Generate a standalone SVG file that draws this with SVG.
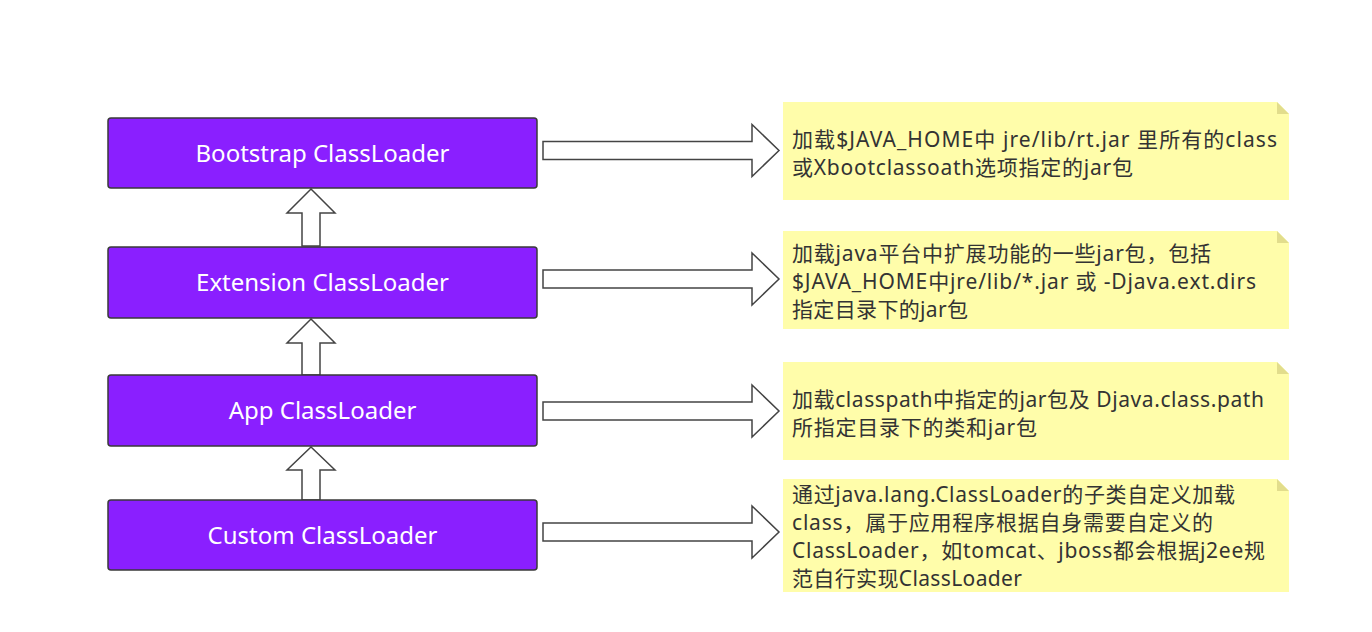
<svg xmlns="http://www.w3.org/2000/svg" width="1372" height="632" viewBox="0 0 1372 632">
<style>
.box{fill:#8A1FFF;stroke:#3a3a3a;stroke-width:1.5}
.lbl{fill:#ffffff;font-family:"Noto Sans","Noto Sans CJK SC",sans-serif;font-size:24px;text-anchor:middle}
.note{fill:#FFFDAA}
.fold{fill:#E2DD8C}
.nt{fill:#333333;font-family:"Noto Sans","Noto Sans CJK SC",sans-serif;font-size:21px}
.arr{fill:#ffffff;stroke:#444444;stroke-width:1.5;stroke-linejoin:miter}
</style>
<defs>
<path id="rarrow" d="M0,-9 L209,-9 L209,-26 L236,0 L209,26 L209,9 L0,9 Z"/>
</defs>
<rect width="1372" height="632" fill="#ffffff"/>
<g id="connectors">
<path class="arr" d="M311,189 L335,213 L320,213 L320,246 L302,246 L302,213 L287,213 Z"/>
<path class="arr" d="M311,319 L335,343 L320,343 L320,375 L302,375 L302,343 L287,343 Z"/>
<path class="arr" d="M311,447 L335,470 L320,470 L320,500 L302,500 L302,470 L287,470 Z"/>
<use href="#rarrow" class="arr" transform="translate(543,150.5)"/>
<use href="#rarrow" class="arr" transform="translate(543,279)"/>
<use href="#rarrow" class="arr" transform="translate(543,411)"/>
<use href="#rarrow" class="arr" transform="translate(543,532)"/>
</g>
<g id="bootstrap">
<rect class="box" x="108" y="118" width="429" height="70" rx="3"/>
<text class="lbl" x="322.5" y="162">Bootstrap ClassLoader</text>
</g>
<g id="extension">
<rect class="box" x="108" y="247" width="429" height="71" rx="3"/>
<text class="lbl" x="322.5" y="291">Extension ClassLoader</text>
</g>
<g id="app">
<rect class="box" x="108" y="375" width="429" height="71" rx="3"/>
<text class="lbl" x="322.5" y="419">App ClassLoader</text>
</g>
<g id="custom">
<rect class="box" x="108" y="500" width="429" height="70" rx="3"/>
<text class="lbl" x="322.5" y="544">Custom ClassLoader</text>
</g>
<g id="note1">
<path class="note" d="M783,102 L1277,102 L1289,114 L1289,200 L783,200 Z"/>
<path class="fold" d="M1277,102 L1289,114 L1277,114 Z"/>
<text class="nt" x="792" y="147" textLength="485" lengthAdjust="spacing">加载$JAVA_HOME中 jre/lib/rt.jar 里所有的class</text>
<text class="nt" x="792" y="175" textLength="341" lengthAdjust="spacing">或Xbootclassoath选项指定的jar包</text>
</g>
<g id="note2">
<path class="note" d="M783,231 L1277,231 L1289,243 L1289,329 L783,329 Z"/>
<path class="fold" d="M1277,231 L1289,243 L1277,243 Z"/>
<text class="nt" x="792" y="261" textLength="419" lengthAdjust="spacing">加载java平台中扩展功能的一些jar包，包括</text>
<text class="nt" x="792" y="289" textLength="464" lengthAdjust="spacing">$JAVA_HOME中jre/lib/*.jar 或 -Djava.ext.dirs</text>
<text class="nt" x="792" y="317" textLength="176" lengthAdjust="spacing">指定目录下的jar包</text>
</g>
<g id="note3">
<path class="note" d="M783,362 L1277,362 L1289,374 L1289,460 L783,460 Z"/>
<path class="fold" d="M1277,362 L1289,374 L1277,374 Z"/>
<text class="nt" x="792" y="407" textLength="472" lengthAdjust="spacing">加载classpath中指定的jar包及 Djava.class.path</text>
<text class="nt" x="792" y="435" textLength="245" lengthAdjust="spacing">所指定目录下的类和jar包</text>
</g>
<g id="note4">
<path class="note" d="M783,479 L1277,479 L1289,491 L1289,592 L783,592 Z"/>
<path class="fold" d="M1277,479 L1289,491 L1277,491 Z"/>
<text class="nt" x="792" y="502" textLength="443" lengthAdjust="spacing">通过java.lang.ClassLoader的子类自定义加载</text>
<text class="nt" x="792" y="530" textLength="421" lengthAdjust="spacing">class，属于应用程序根据自身需要自定义的</text>
<text class="nt" x="792" y="558" textLength="473" lengthAdjust="spacing">ClassLoader，如tomcat、jboss都会根据j2ee规</text>
<text class="nt" x="792" y="586" textLength="230" lengthAdjust="spacing">范自行实现ClassLoader</text>
</g>
</svg>
